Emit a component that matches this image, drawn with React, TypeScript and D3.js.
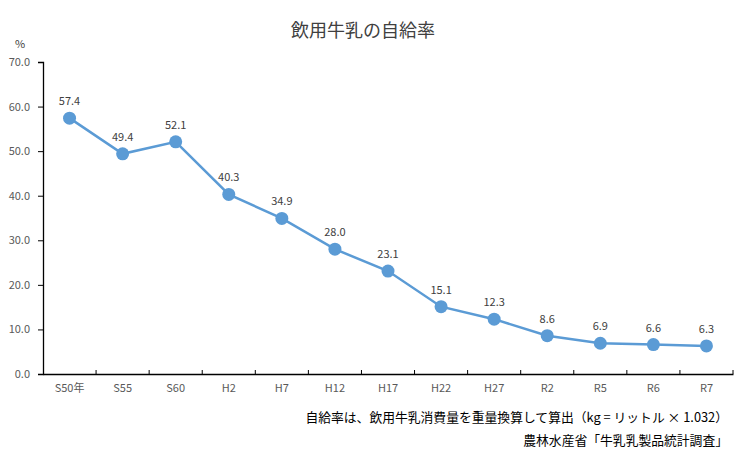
import React, { useEffect, useRef } from 'react';
import * as d3 from 'd3';

const categories = ['S50年', 'S55', 'S60', 'H2', 'H7', 'H12', 'H17', 'H22', 'H27', 'R2', 'R5', 'R6', 'R7'];
const rates = [57.4, 49.4, 52.1, 40.3, 34.9, 28.0, 23.1, 15.1, 12.3, 8.6, 6.9, 6.6, 6.3];
const yTicks = [0, 10, 20, 30, 40, 50, 60, 70];

const title = '飲用牛乳の自給率';
const note1 = '自給率は、飲用牛乳消費量を重量換算して算出（kg = リットル × 1.032）';
const note2 = '農林水産省「牛乳乳製品統計調査」';

const width = 755;
const height = 459;
const margin = { top: 62, right: 22, bottom: 85, left: 43 };
const font = '"Noto Sans CJK JP", "Noto Sans", sans-serif';

export default function App() {
  const ref = useRef<SVGSVGElement>(null);

  useEffect(() => {
    const svg = d3.select(ref.current);
    svg.selectAll('*').remove();

    const x = d3
      .scaleBand()
      .domain(categories)
      .range([margin.left, width - margin.right]);
    const y = d3
      .scaleLinear()
      .domain([0, 70])
      .range([height - margin.bottom, margin.top]);

    // タイトル
    svg
      .append('text')
      .attr('x', 363)
      .attr('y', 37)
      .attr('text-anchor', 'middle')
      .attr('font-size', 18)
      .attr('fill', '#404040')
      .text(title);

    svg
      .append('text')
      .attr('x', 20)
      .attr('y', 48)
      .attr('text-anchor', 'middle')
      .attr('font-size', 11)
      .attr('fill', '#404040')
      .text('%');

    // y軸
    const yAxis = svg
      .append('g')
      .attr('transform', `translate(${margin.left},0)`)
      .call(
        d3
          .axisLeft(y)
          .tickValues(yTicks)
          .tickSize(5)
          .tickPadding(8)
          .tickFormat((d) => d3.format('.1f')(d as number))
      );
    yAxis.select('.domain').attr('stroke', '#000').attr('stroke-width', 1.3);
    yAxis.selectAll('.tick line').attr('stroke', '#000');
    yAxis
      .selectAll('.tick text')
      .attr('font-size', 11)
      .attr('font-family', font)
      .attr('fill', '#595959');

    // x軸
    const xAxis = svg
      .append('g')
      .attr('transform', `translate(0,${height - margin.bottom})`)
      .call(d3.axisBottom(x).tickSize(0).tickPadding(10));
    xAxis.select('.domain').attr('stroke', '#000').attr('stroke-width', 1.3);
    xAxis
      .selectAll('.tick text')
      .attr('font-size', 11)
      .attr('font-family', font)
      .attr('fill', '#595959');

    // 区切り目盛（内向き）
    const bounds = categories.map((c) => x(c)! + x.bandwidth());
    svg
      .append('g')
      .selectAll('line')
      .data(bounds)
      .enter()
      .append('line')
      .attr('x1', (d) => d)
      .attr('x2', (d) => d)
      .attr('y1', y(0))
      .attr('y2', y(0) - 4)
      .attr('stroke', '#000')
      .attr('stroke-width', 1);

    const cx = (i: number) => x(categories[i])! + x.bandwidth() / 2;

    const line = d3
      .line<number>()
      .x((_, i) => cx(i))
      .y((d) => y(d));

    svg
      .append('path')
      .attr('d', line(rates))
      .attr('fill', 'none')
      .attr('stroke', '#5B9BD5')
      .attr('stroke-width', 2.5);

    svg
      .append('g')
      .selectAll('circle')
      .data(rates)
      .enter()
      .append('circle')
      .attr('cx', (_, i) => cx(i))
      .attr('cy', (d) => y(d))
      .attr('r', 6.5)
      .attr('fill', '#5B9BD5');

    svg
      .append('g')
      .selectAll('text')
      .data(rates)
      .enter()
      .append('text')
      .attr('x', (_, i) => cx(i))
      .attr('y', (d) => y(d) - 13)
      .attr('text-anchor', 'middle')
      .attr('font-size', 11)
      .attr('fill', '#404040')
      .text((d) => d.toFixed(1));

    // 注記
    svg
      .append('text')
      .attr('x', 728)
      .attr('y', 422)
      .attr('text-anchor', 'end')
      .attr('font-size', 12.8)
      .attr('fill', '#000')
      .text(note1);
    svg
      .append('text')
      .attr('x', 728)
      .attr('y', 445)
      .attr('text-anchor', 'end')
      .attr('font-size', 12.8)
      .attr('fill', '#000')
      .text(note2);
  }, []);

  return (
    <svg
      ref={ref}
      width={width}
      height={height}
      style={{ display: 'block', position: 'absolute', left: 0, top: 0, fontFamily: font, background: '#fff' }}
    />
  );
}
